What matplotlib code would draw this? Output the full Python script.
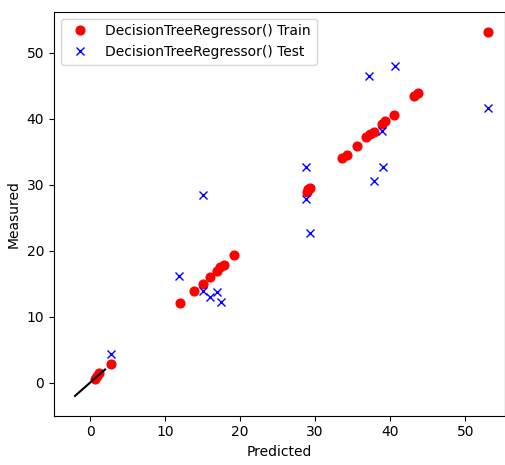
import matplotlib
matplotlib.use("Agg")
import matplotlib.pyplot as plt

train_pred = [53.0, 43.2, 43.7, 40.5, 39.3, 38.9, 37.8, 37.3, 36.8, 35.6, 34.2, 33.6,
              29.1, 28.9, 29.3, 19.2, 17.8, 17.3, 16.9, 16.0, 15.0, 13.8, 12.0,
              2.8, 1.25, 0.9, 0.67]
train_meas = [53.2, 43.5, 43.9, 40.6, 39.6, 39.2, 38.0, 37.6, 37.2, 35.8, 34.5, 34.0,
              29.3, 28.9, 29.5, 19.3, 17.8, 17.5, 16.9, 16.0, 15.0, 13.9, 12.1,
              2.8, 1.4, 1.0, 0.6]

test_pred = [37.2, 40.6, 53.0, 38.9, 28.8, 39.0, 37.9, 15.0, 28.8, 29.3,
             11.9, 15.0, 16.0, 16.9, 17.4, 2.8]
test_meas = [46.4, 47.9, 41.6, 38.2, 32.7, 32.6, 30.5, 28.5, 27.8, 22.7,
             16.2, 13.9, 13.0, 13.8, 12.2, 4.3]

line_vals = [-2, 2]

fig = plt.figure(figsize=(5.06, 4.65), dpi=100)
ax = fig.add_axes([54/506, 49.3/465, (505-54)/506, (415.7-11.7)/465])
ax.plot(train_pred, train_meas, 'ro', markersize=6.3, label='DecisionTreeRegressor() Train')
ax.plot(test_pred, test_meas, 'bx', markersize=6.3, label='DecisionTreeRegressor() Test')
ax.plot(line_vals, line_vals, 'k-')
ax.set_xlim(-4.8, 55.3)
ax.set_ylim(-5.0, 56.2)
ax.set_xlabel('Predicted')
ax.set_ylabel('Measured')
ax.legend(loc='upper left')
fig.savefig('out.png', dpi=100)
